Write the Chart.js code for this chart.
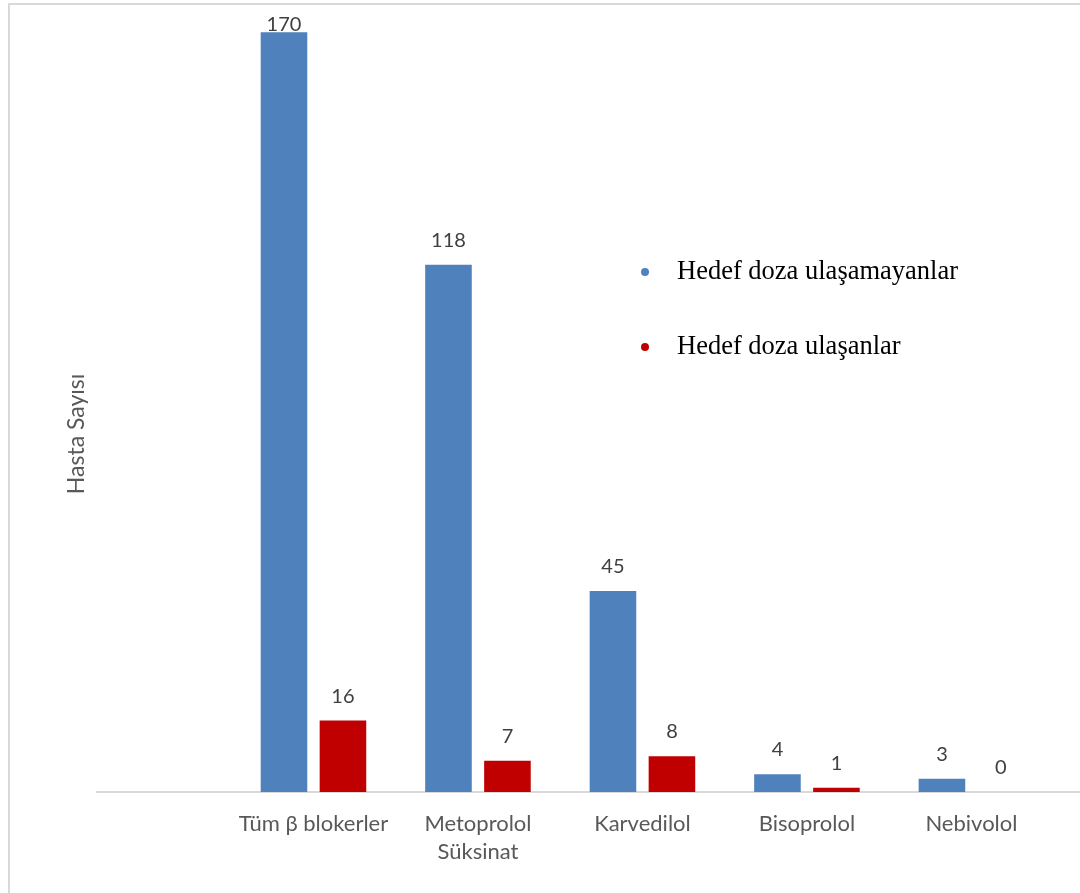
<!DOCTYPE html>
<html lang="tr">
<head>
<meta charset="utf-8">
<script src="https://cdn.jsdelivr.net/npm/chart.js@4"></script>
<style>
  html, body { margin: 0; padding: 0; background: #fff; overflow: hidden; }
  #frame { position: absolute; left: 8px; top: 3px; width: 1300px; height: 1100px; border: 2px solid #d9d9d9; }
  #wrap { position: absolute; left: 0; top: 0; width: 1080px; height: 893px; }
  #legend { position: absolute; left: 636px; top: 250px; margin: 0; padding: 0; list-style: none;
    font-family: "Liberation Serif", "Times New Roman", serif; font-size: 26.5px; color: #000; }
  #legend li { position: relative; height: 75px; line-height: 40px; padding-left: 41px; white-space: nowrap; }
  #legend .dot { position: absolute; left: 5px; top: 18px; width: 8px; height: 8px; border-radius: 50%; }
</style>
</head>
<body>
<div id="frame"></div>
<div id="wrap"><canvas id="chart"></canvas></div>
<ul id="legend"></ul>
<script>
// Hedef doza ulaşan / ulaşamayan hasta sayıları, β bloker türüne göre.
const categories = ["Tüm β blokerler", ["Metoprolol", "Süksinat"], "Karvedilol", "Bisoprolol", "Nebivolol"];
const notReached = [170, 118, 45, 4, 3];
const reached = [16, 7, 8, 1, 0];
const seriesNames = ["Hedef doza ulaşamayanlar", "Hedef doza ulaşanlar"];
const seriesColors = ["#4F81BD", "#C00000"];
const yTitle = "Hasta Sayısı";

const FONT = "Lato, 'Open Sans', sans-serif";

// the bars sit at x = 1..5; an empty slot is left in front like the original sheet
const points = (values) => values.map((v, i) => ({ x: i + 1, y: v }));

const valueLabels = {
  id: "valueLabels",
  afterDatasetsDraw(chart) {
    const { ctx, chartArea } = chart;
    ctx.save();
    ctx.font = `20px ${FONT}`;
    ctx.fillStyle = "#404040";
    ctx.textAlign = "center";
    ctx.textBaseline = "alphabetic";
    chart.data.datasets.forEach((ds, di) => {
      chart.getDatasetMeta(di).data.forEach((bar, i) => {
        const y = Math.max(bar.y - 18, chartArea.top + 21);
        ctx.fillText(String(ds.data[i].y), bar.x, y);
      });
    });
    ctx.restore();
  },
};

const sideTitle = {
  id: "sideTitle",
  afterDraw(chart) {
    const { ctx, chartArea } = chart;
    ctx.save();
    ctx.translate(chartArea.left - 20, chartArea.top + (chartArea.bottom - chartArea.top) * 0.542);
    ctx.rotate(-Math.PI / 2);
    ctx.font = `23px ${FONT}`;
    ctx.fillStyle = "#595959";
    ctx.textAlign = "center";
    ctx.textBaseline = "middle";
    ctx.fillText(yTitle, 0, 0);
    ctx.restore();
  },
};

new Chart(document.getElementById("chart"), {
  type: "bar",
  data: {
    datasets: [
      { label: seriesNames[0], data: points(notReached), backgroundColor: seriesColors[0] },
      { label: seriesNames[1], data: points(reached), backgroundColor: seriesColors[1] },
    ],
  },
  plugins: [valueLabels, sideTitle],
  options: {
    responsive: true,
    maintainAspectRatio: false,
    animation: false,
    events: [],
    categoryPercentage: 0.717,
    barPercentage: 0.79,
    layout: { padding: { left: 97, right: 0, top: 10, bottom: 9 } },
    plugins: { legend: { display: false }, tooltip: { enabled: false } },
    scales: {
      x: {
        type: "linear",
        offset: false,
        min: -0.316,
        max: 5.66,
        afterBuildTicks: (scale) => {
          scale.ticks = categories.map((c, i) => ({ value: i + 1 }));
        },
        grid: { display: false, drawTicks: false, offset: false },
        border: { display: true, color: "#d9d9d9", width: 2 },
        ticks: {
          autoSkip: false,
          maxRotation: 0,
          padding: 18,
          color: "#595959",
          font: { family: FONT, size: 22, lineHeight: 1.27 },
          callback: (value) => categories[value - 1] ?? "",
        },
      },
      y: { display: false, min: 0, max: 175 },
    },
  },
});

// HTML legend, built from the same series names / colours
document.getElementById("legend").innerHTML = seriesNames
  .map((name, i) => `<li><span class="dot" style="background:${seriesColors[i]}"></span>${name}</li>`)
  .join("");
</script>
</body>
</html>
